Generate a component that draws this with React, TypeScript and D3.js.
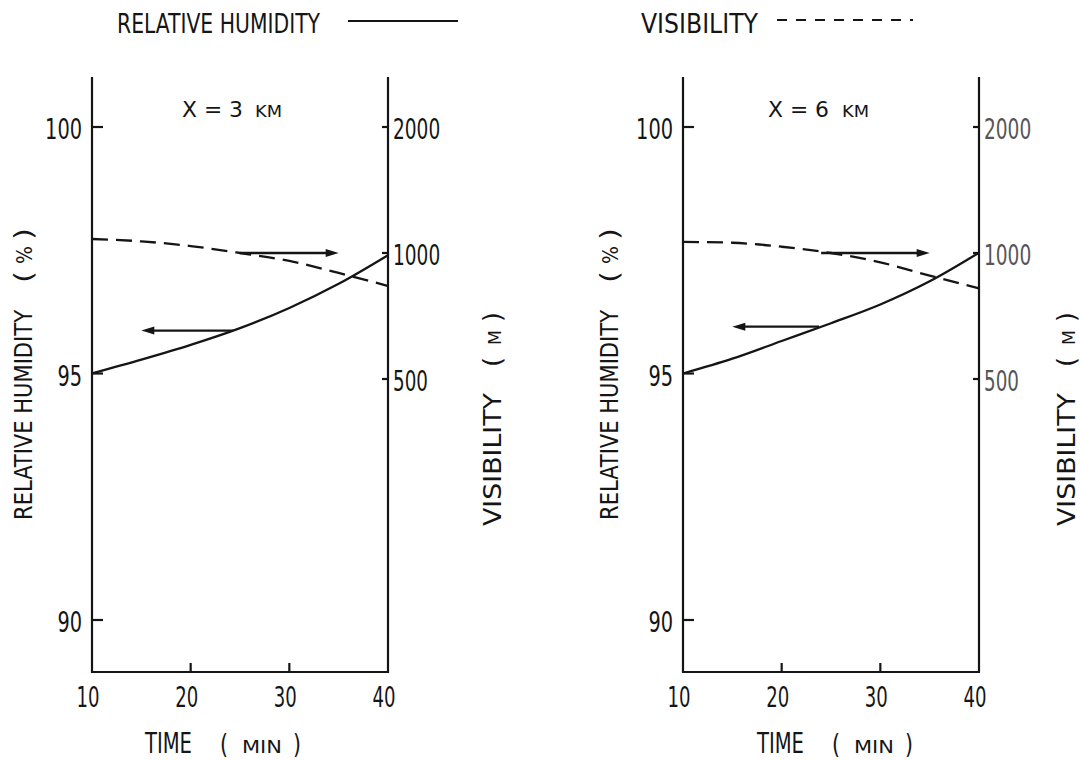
import React from "react";
import * as d3 from "d3";

// Time (min) sample points and the two measured quantities at two downstream distances
const times = [10, 15, 20, 25, 30, 35, 40];
const humidity3km = [95.0, 95.28, 95.58, 95.92, 96.33, 96.82, 97.4];
const visibility3km = [1080, 1066, 1039, 1000, 957, 896, 834];
const humidity6km = [95.0, 95.3, 95.66, 96.02, 96.4, 96.87, 97.45];
const visibility6km = [1063, 1058, 1035, 1000, 950, 883, 823];

const timeTicks = [10, 20, 30, 40];
const humidityTicks = [90, 95, 100];
const visibilityTicks = [500, 1000, 2000];

const panelDistances = ["3", "6"];

// Arrows pointing each curve to its own axis: time span and level
const visibilityArrows = [
  { from: 25, to: 35, value: 1000 },
  { from: 24, to: 35, value: 1000 },
];
const humidityArrows = [
  { from: 24.3, to: 15, value: 95.87 },
  { from: 23.8, to: 15, value: 95.95 },
];

const FONT = '"DejaVu Sans Condensed", "DejaVu Sans", "Liberation Sans Narrow", sans-serif';
const INK = "#151515";

type LabelProps = {
  x: number;
  y: number;
  w?: number;
  size: number;
  anchor?: "start" | "middle" | "end";
  rotate?: number;
  fill?: string;
  children: React.ReactNode;
};

function Label({ x, y, w, size, anchor = "start", rotate = 0, fill = INK, children }: LabelProps) {
  return (
    <text
      x={x}
      y={y}
      fontSize={size}
      fontFamily={FONT}
      fill={fill}
      textAnchor={anchor}
      textLength={w}
      lengthAdjust={w ? "spacingAndGlyphs" : undefined}
      transform={rotate ? `rotate(${rotate} ${x} ${y})` : undefined}
    >
      {children}
    </text>
  );
}

type PanelLayout = {
  titleX: number;
  kmX: number;
  rhLabelX: number;
  visLabelX: number;
  timeX: number;
  fadedRight?: boolean;
};

type PanelProps = {
  left: number;
  right: number;
  humidity: number[];
  visibility: number[];
  distance: string;
  visArrow: { from: number; to: number; value: number };
  rhArrow: { from: number; to: number; value: number };
  layout: PanelLayout;
};

const TOP = 77;
const BOTTOM = 672;

function Panel({ left, right, humidity, visibility, distance, visArrow, rhArrow, layout }: PanelProps) {
  const x = d3.scaleLinear().domain([10, 40]).range([left, right]);
  const yRH = d3.scaleLinear().domain([90, 100]).range([620, 127]);
  const yVis = d3.scaleLog().domain([500, 2000]).range([379, 127]);

  const rhLine = d3
    .line<number>()
    .x((_, i) => x(times[i]))
    .y((d) => yRH(d))
    .curve(d3.curveMonotoneX);
  const visLine = d3
    .line<number>()
    .x((_, i) => x(times[i]))
    .y((d) => yVis(d))
    .curve(d3.curveMonotoneX);

  const arrow = (x1: number, x2: number, y: number) => {
    const dir = Math.sign(x2 - x1);
    const len = 13;
    const hw = 4;
    return (
      <g>
        <line x1={x1} y1={y} x2={x2 - dir * len * 0.6} y2={y} stroke={INK} strokeWidth={2.4} />
        <path d={`M${x2},${y} L${x2 - dir * len},${y - hw} L${x2 - dir * len},${y + hw} Z`} fill={INK} />
      </g>
    );
  };

  const digitW = 12.3;
  const L = layout;

  return (
    <g>
      {/* frame: left axis, bottom axis, right axis */}
      <path
        d={`M${left},${TOP} V${BOTTOM} H${right} V${TOP}`}
        fill="none"
        stroke={INK}
        strokeWidth={2.2}
      />
      {/* humidity ticks (left axis, inward) */}
      {humidityTicks.map((t) => (
        <g key={"h" + t}>
          <line x1={left} x2={left + 11} y1={yRH(t)} y2={yRH(t)} stroke={INK} strokeWidth={2.2} />
          <Label x={left - 10} y={yRH(t) + 12} size={28} anchor="end" w={String(t).length * digitW}>
            {t}
          </Label>
        </g>
      ))}
      {/* visibility ticks (right axis, inward) */}
      {visibilityTicks.map((t) => (
        <g key={"v" + t}>
          <line x1={right - 6} x2={right} y1={yVis(t)} y2={yVis(t)} stroke={INK} strokeWidth={2.2} />
          <Label
            x={right + 5}
            y={yVis(t) + 12}
            size={28}
            w={String(t).length * digitW - 2}
            fill={L.fadedRight ? "#555" : INK}
          >
            {t}
          </Label>
        </g>
      ))}
      {/* time ticks */}
      {timeTicks.map((t) => (
        <g key={"t" + t}>
          {t !== 10 && t !== 40 && (
            <line x1={x(t)} x2={x(t)} y1={BOTTOM} y2={BOTTOM - 9} stroke={INK} strokeWidth={2.2} />
          )}
          <Label x={x(t) - 4} y={707} size={28} anchor="middle" w={23}>
            {t}
          </Label>
        </g>
      ))}

      {/* curves */}
      <path d={rhLine(humidity) ?? ""} fill="none" stroke={INK} strokeWidth={2.3} />
      <path
        d={visLine(visibility) ?? ""}
        fill="none"
        stroke={INK}
        strokeWidth={2.3}
        strokeDasharray="16 8"
      />

      {arrow(x(visArrow.from), x(visArrow.to), yVis(visArrow.value))}
      {arrow(x(rhArrow.from), x(rhArrow.to), yRH(rhArrow.value))}

      {/* panel title */}
      <Label x={L.titleX} y={117} size={21} w={61}>
        {`X = ${distance}`}
      </Label>
      <Label x={L.kmX} y={117} size={16} w={27}>
        KM
      </Label>

      {/* axis titles, reading bottom to top */}
      <Label x={L.rhLabelX} y={520} size={25} rotate={-90} w={210}>
        RELATIVE HUMIDITY
      </Label>
      <Label x={L.rhLabelX} y={283} size={25} rotate={-90} w={12}>
        (
      </Label>
      <Label x={L.rhLabelX} y={264} size={22} rotate={-90} w={18}>
        %
      </Label>
      <Label x={L.rhLabelX} y={240} size={25} rotate={-90} w={12}>
        )
      </Label>

      <Label x={L.visLabelX} y={526} size={25} rotate={-90} w={133}>
        VISIBILITY
      </Label>
      <Label x={L.visLabelX} y={367} size={25} rotate={-90} w={10}>
        (
      </Label>
      <Label x={L.visLabelX} y={345} size={17} rotate={-90} w={15}>
        M
      </Label>
      <Label x={L.visLabelX} y={322} size={25} rotate={-90} w={10}>
        )
      </Label>

      <Label x={L.timeX} y={753} size={28} w={47}>
        TIME
      </Label>
      <Label x={L.timeX + 75} y={753} size={26} w={8}>
        (
      </Label>
      <Label x={L.timeX + 97} y={753} size={18} w={40}>
        MIN
      </Label>
      <Label x={L.timeX + 148} y={753} size={26} w={8}>
        )
      </Label>
    </g>
  );
}

export default function App() {
  return (
    <svg
      width={1080}
      height={760}
      viewBox="0 0 1080 760"
      style={{ position: "absolute", left: 0, top: 0, display: "block", background: "#fff" }}
    >
      <rect width={1080} height={760} fill="#fff" />

      {/* legend */}
      <Label x={117} y={33} size={27} w={203}>
        RELATIVE HUMIDITY
      </Label>
      <line x1={348} x2={458} y1={21} y2={21} stroke={INK} strokeWidth={2.2} />
      <Label x={641} y={33} size={27} w={117}>
        VISIBILITY
      </Label>
      <line x1={777} x2={913} y1={20} y2={20} stroke={INK} strokeWidth={2.2} strokeDasharray="10 9" />

      <Panel
        left={92}
        right={388}
        humidity={humidity3km}
        visibility={visibility3km}
        distance={panelDistances[0]}
        visArrow={visibilityArrows[0]}
        rhArrow={humidityArrows[0]}
        layout={{
          titleX: 182,
          kmX: 255,
          rhLabelX: 32,
          visLabelX: 501,
          timeX: 145,
        }}
      />
      <Panel
        left={683}
        right={979}
        humidity={humidity6km}
        visibility={visibility6km}
        distance={panelDistances[1]}
        visArrow={visibilityArrows[1]}
        rhArrow={humidityArrows[1]}
        layout={{
          titleX: 768,
          kmX: 842,
          rhLabelX: 618,
          visLabelX: 1075,
          timeX: 757,
          fadedRight: true,
        }}
      />
    </svg>
  );
}
